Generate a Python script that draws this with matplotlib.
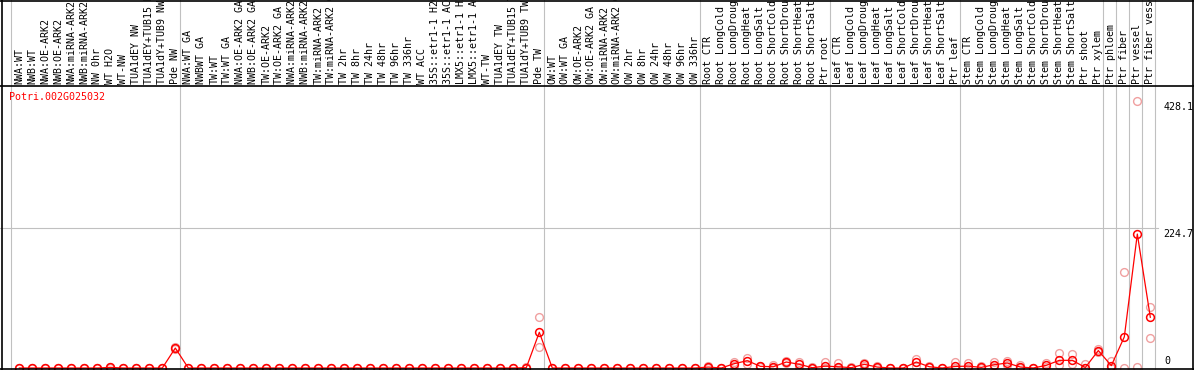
import matplotlib
matplotlib.use('Agg')
import matplotlib.pyplot as plt
from matplotlib.transforms import blended_transform_factory
import numpy as np

gene = 'Potri.002G025032'

# sample labels, one list per group
labels_nw = ['NWA:WT', 'NWB:WT', 'NWA:OE-ARK2', 'NWB:OE-ARK2', 'NWA:miRNA-ARK2',
             'NWB:miRNA-ARK2', 'NW 0hr', 'WT H2O', 'WT-NW', 'TUA1dEY NW',
             'TUA1dEY+TUB15 NW', 'TUA1dY+TUB9 NW', 'Pde NW']
labels_tw = ['NWA:WT GA', 'NWBWT GA', 'TW:WT', 'TW:WT GA', 'NWA:OE-ARK2 GA',
             'NWB:OE-ARK2 GA', 'TW:OE-ARK2', 'TW:OE-ARK2 GA', 'NWA:miRNA-ARK2 GA',
             'NWB:miRNA-ARK2 GA', 'TW:miRNA-ARK2', 'TW:miRNA-ARK2 GA', 'TW 2hr', 'TW 8hr',
             'TW 24hr', 'TW 48hr', 'TW 96hr', 'TW 336hr', 'WT ACC', '35S::etr1-1 H2O',
             '35S::etr1-1 ACC', 'LMX5::etr1-1 H2O', 'LMX5::etr1-1 ACC', 'WT-TW',
             'TUA1dEY TW', 'TUA1dEY+TUB15 TW', 'TUA1dY+TUB9 TW', 'Pde TW']
labels_ow = ['OW:WT', 'OW:WT GA', 'OW:OE-ARK2', 'OW:OE-ARK2 GA', 'OW:miRNA-ARK2',
             'OW:miRNA-ARK2 GA', 'OW 2hr', 'OW 8hr', 'OW 24hr', 'OW 48hr', 'OW 96hr',
             'OW 336hr']
labels_root = ['Root CTR', 'Root LongCold', 'Root LongDrought', 'Root LongHeat',
               'Root LongSalt', 'Root ShortCold', 'Root ShortDrought', 'Root ShortHeat',
               'Root ShortSalt', 'Ptr root']
labels_leaf = ['Leaf CTR', 'Leaf LongCold', 'Leaf LongDrought', 'Leaf LongHeat',
               'Leaf LongSalt', 'Leaf ShortCold', 'Leaf ShortDrought', 'Leaf ShortHeat',
               'Leaf ShortSalt', 'Ptr leaf']
labels_stem = ['Stem CTR', 'Stem LongCold', 'Stem LongDrought', 'Stem LongHeat',
               'Stem LongSalt', 'Stem ShortCold', 'Stem ShortDrought', 'Stem ShortHeat',
               'Stem ShortSalt', 'Ptr shoot', 'Ptr xylem']
labels_tissue = ['Ptr phloem', 'Ptr fiber', 'Ptr vessel', 'Ptr fiber vessel']

# mean expression per sample
mean_nw = [0, 0, 0, 0, 0, 0, 0, 1, 0, 0, 0, 0, 32]
mean_tw = [0] * 26 + [0.5, 57.3]
mean_ow = [0] * 12
mean_root = [1.5, 0, 7, 11.7, 2.7, 2, 9.6, 5.9, 0.5, 3]
mean_leaf = [2, 0.5, 5.9, 1.5, 0, 0, 9.6, 2, 0, 2.5]
mean_stem = [3, 1, 5.3, 8, 1.6, 0, 4.3, 12.3, 12.3, 0.8, 28]
mean_tissue = [3.8, 50, 215, 81.4]

# replicate values (high / low)
rep_hi_nw = [0, 0, 0, 0, 0, 0, 0, 1.5, 0, 0, 0, 0, 34]
rep_lo_nw = [0, 0, 0, 0, 0, 0, 0, 0.5, 0, 0, 0, 0, 30]
rep_hi_tw = [0] * 26 + [1, 81.4]
rep_lo_tw = [0] * 26 + [0, 33.2]
rep_hi_ow = [0] * 12
rep_lo_ow = [0] * 12
rep_hi_root = [3, 0, 10, 16.5, 4, 5.3, 11, 9.6, 1, 9.6]
rep_lo_root = [0, 0, 4, 7, 1.4, 0, 8, 2.2, 0, 0]
rep_hi_leaf = [8.5, 1, 8.5, 3, 0, 0, 15, 3, 0, 10]
rep_lo_leaf = [0, 0, 3, 0, 0, 0, 4, 1, 0, 0]
rep_hi_stem = [8, 4, 9.6, 11.7, 4.8, 0, 7.5, 24.6, 22.5, 7, 30]
rep_lo_stem = [0, 0, 1, 4.3, 0, 0, 1, 4.8, 6.4, 0, 25.7]
rep_hi_tissue = [11.8, 153.6, 428.1, 98.4]
rep_lo_tissue = [0, 0, 2, 47.7]

tick_vals = [0, 224.7, 428.1]

groups = [labels_nw, labels_tw, labels_ow, labels_root, labels_leaf, labels_stem]
labels = sum(groups, []) + labels_tissue
means = np.array(mean_nw + mean_tw + mean_ow + mean_root + mean_leaf + mean_stem + mean_tissue)
rep_hi = np.array(rep_hi_nw + rep_hi_tw + rep_hi_ow + rep_hi_root + rep_hi_leaf + rep_hi_stem + rep_hi_tissue)
rep_lo = np.array(rep_lo_nw + rep_lo_tw + rep_lo_ow + rep_lo_root + rep_lo_leaf + rep_lo_stem + rep_lo_tissue)
x = np.arange(len(labels))

# group start indices -> separator lines
starts = np.cumsum([0] + [len(g) for g in groups])
bounds = list(starts) + [starts[-1] + k for k in range(1, len(labels_tissue) + 1)]

W, H = 1194, 370
head = 86
fig = plt.figure(figsize=(W / 100, H / 100), dpi=100)
ax = fig.add_axes([0, 0, 1, (H - head) / H])
ax.set_xlim(-1.485, 90.36)
ax.set_ylim(-3.21, 452.6)
ax.axis('off')

mono = 'DejaVu Sans Mono'
red = '#ff0000'
pale = '#f0a0a0'
grey = '#c0c0c0'

vtrans = blended_transform_factory(ax.transData, fig.transFigure)
for b in bounds:
    ax.plot([b - 0.65, b - 0.65], [0, 1], transform=vtrans, color=grey, lw=0.8,
            clip_on=False, zorder=1)

ax.plot([-1.485, 87.6], [tick_vals[1], tick_vals[1]], color=grey, lw=0.8, zorder=1)

# replicates then means
ax.plot(x, rep_hi, ls='none', marker='o', ms=5.6, mfc='none', mec=pale, mew=1.0, zorder=2)
ax.plot(x, rep_lo, ls='none', marker='o', ms=5.6, mfc='none', mec=pale, mew=1.0, zorder=2)
ax.plot(x, means, color=red, lw=0.9, marker='o', ms=5.6, mfc='none', mec=red, mew=1.1,
        zorder=3, clip_on=False)

# value labels on the right
ax.annotate('%.1f' % tick_vals[2], xy=(88, tick_vals[2]), xytext=(0, -1),
            textcoords='offset pixels', ha='left', va='top', fontsize=7.2, family=mono)
ax.annotate('%.1f' % tick_vals[1], xy=(88, tick_vals[1]), xytext=(0, -1),
            textcoords='offset pixels', ha='left', va='top', fontsize=7.2, family=mono)
ax.annotate('0', xy=(88.1, 0), xytext=(0, 2), textcoords='offset pixels',
            ha='left', va='bottom', fontsize=7.2, family=mono)

# sample labels in the header
htrans = blended_transform_factory(ax.transData, fig.transFigure)
for i, lab in enumerate(labels):
    ax.text(i, (H - head + 2) / H, lab, transform=htrans, rotation=90, ha='center',
            va='bottom', fontsize=7.2, family=mono, clip_on=False)

fig.text(9.5 / W, (H - 97) / H, gene, color=red, fontsize=7.2, family=mono,
         ha='left', va='center')

# frame and header separator
fig.add_artist(plt.Line2D([0, 1], [(H - head) / H] * 2, color='black', lw=1.2))
fig.add_artist(plt.Line2D([0, 1], [0.6 / H] * 2, color='black', lw=1.2))
fig.add_artist(plt.Line2D([0, 1], [1 - 0.6 / H] * 2, color='black', lw=1.2))
fig.add_artist(plt.Line2D([1.5 / W] * 2, [0, 1], color='black', lw=1.2))
fig.add_artist(plt.Line2D([1 - 0.6 / W] * 2, [0, 1], color='black', lw=1.2))

fig.savefig('out.png', dpi=100)
